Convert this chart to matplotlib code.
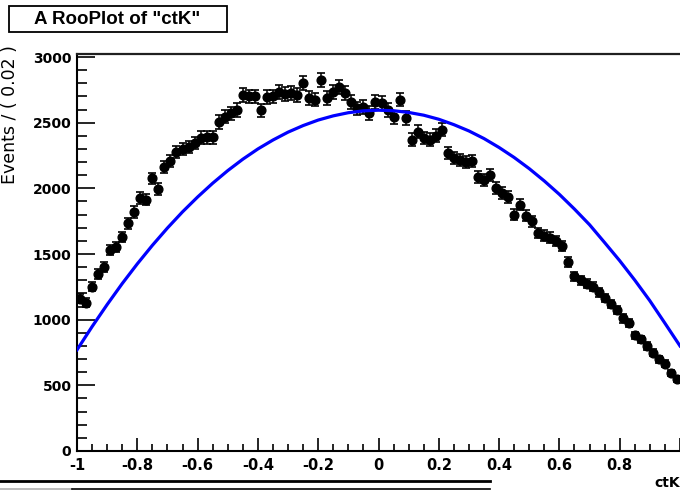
import numpy as np
import matplotlib
matplotlib.use("Agg")
import matplotlib.pyplot as plt
from matplotlib.patches import Rectangle
from matplotlib.lines import Line2D
from matplotlib.ticker import MultipleLocator, FixedLocator, FixedFormatter

# ---- data (100 bins of width 0.02 on [-1, 1]) ----
bin_centers = np.round(np.arange(-0.99, 1.0, 0.02), 2)
counts = [
    1160, 1130, 1250, 1350, 1400, 1530, 1555, 1630, 1735, 1820,
    1925, 1915, 2075, 1995, 2160, 2210, 2275, 2300, 2315, 2345,
    2385, 2390, 2390, 2505, 2545, 2570, 2597, 2710, 2700, 2700,
    2595, 2695, 2700, 2735, 2720, 2727, 2711, 2803, 2690, 2675,
    2826, 2690, 2734, 2772, 2727, 2658, 2610, 2620, 2574, 2658,
    2650, 2597, 2540, 2675, 2536, 2369, 2430, 2384, 2369, 2400,
    2445, 2270, 2231, 2216, 2201, 2210, 2090, 2065, 2100, 2000,
    1965, 1935, 1800, 1875, 1790, 1750, 1660, 1640, 1625, 1600,
    1560, 1440, 1330, 1300, 1275, 1250, 1210, 1165, 1120, 1075,
    1010, 975, 880, 850, 800, 750, 700, 665, 595, 545,
]
count_errors = np.sqrt(np.array(counts, dtype=float))

# model curve
curve_x = np.round(np.arange(-1.0, 1.0001, 0.05), 2)
curve_y = [
    770, 947, 1115, 1275, 1425, 1566, 1698, 1821, 1934, 2039,
    2135, 2222, 2300, 2368, 2428, 2478, 2520, 2552, 2576, 2590,
    2595, 2591, 2578, 2557, 2526, 2485, 2437, 2379, 2311, 2235,
    2150, 2056, 1954, 1842, 1723, 1587, 1449, 1301, 1144, 973, 800,
]

x_tick_values = [-1, -0.8, -0.6, -0.4, -0.2, 0, 0.2, 0.4, 0.6, 0.8, 1.0]
x_tick_labels = ["-1", "-0.8", "-0.6", "-0.4", "-0.2", "0", "0.2", "0.4", "0.6", "0.8", ""]
y_tick_values = [0, 500, 1000, 1500, 2000, 2500, 3000]
y_tick_labels = ["0", "500", "1000", "1500", "2000", "2500", "3000"]

title_text = 'A RooPlot of "ctK"'
x_title = "ctK"
y_title = "Events / ( 0.02 )"

# ---- figure ----
W, H = 680, 491
fig = plt.figure(figsize=(W / 100, H / 100), dpi=100)
fig.patch.set_facecolor("white")

ax_left, ax_right, ax_top, ax_bottom = 77, 680, 54, 451
ax = fig.add_axes([ax_left / W, (H - ax_bottom) / H,
                   (ax_right - ax_left) / W, (ax_bottom - ax_top) / H])

ax.errorbar(bin_centers, counts, yerr=count_errors, fmt="o", color="black",
            ms=6.3, elinewidth=1.1, capsize=2.8, capthick=1.2, zorder=2)
ax.plot(curve_x, curve_y, color="#0000ff", lw=2.3, zorder=3)

ax.set_xlim(-1, 1)
ax.set_ylim(0, 3023)

ax.xaxis.set_major_locator(FixedLocator(x_tick_values))
ax.xaxis.set_major_formatter(FixedFormatter(x_tick_labels))
ax.xaxis.set_minor_locator(MultipleLocator(0.05))
ax.yaxis.set_major_locator(FixedLocator(y_tick_values))
ax.yaxis.set_major_formatter(FixedFormatter(y_tick_labels))
ax.yaxis.set_minor_locator(MultipleLocator(100))

ax.tick_params(axis="y", which="major", direction="in", length=13, width=1.2,
               left=True, right=False, pad=4, labelsize=10)
ax.tick_params(axis="y", which="minor", direction="in", length=7, width=1.2,
               left=True, right=False)
ax.tick_params(axis="x", which="major", direction="in", length=9.5, width=1.2,
               bottom=True, top=False, pad=5, labelsize=10.5)
ax.tick_params(axis="x", which="minor", direction="in", length=5, width=1.2,
               bottom=True, top=False)
for lab in ax.get_xticklabels() + ax.get_yticklabels():
    lab.set_fontweight("bold")
    lab.set_family("DejaVu Sans")

ax.spines["right"].set_visible(False)
for s in ("left", "bottom"):
    ax.spines[s].set_linewidth(1.5)
ax.spines["top"].set_linewidth(1.6)
ax.spines["top"].set_color("#202020")

# axis titles
fig.text(680 / W, 1 - 483 / H, x_title, ha="right", va="center",
         fontsize=10, fontweight="bold", family="DejaVu Sans")
fig.text(10 / W, 1 - 45 / H, y_title, ha="center", va="top", rotation=90,
         fontsize=12.5, family="DejaVu Sans")

# title box
fig.patches.append(Rectangle((9 / W, 1 - 32 / H), (227 - 9) / W, (32 - 6) / H,
                             transform=fig.transFigure, facecolor="white",
                             edgecolor="black", linewidth=1.3))
fig.text(117 / W, 1 - 19.5 / H, title_text, ha="center", va="center",
         fontsize=13.5, fontweight="bold", family=["Liberation Sans", "DejaVu Sans"])

# canvas frame lines at the bottom
fig.lines.append(Line2D([0, 490 / W], [1 - 481 / H, 1 - 481 / H],
                        transform=fig.transFigure, color="black", lw=2.0))
fig.lines.append(Line2D([0, 72 / W], [1 - 489 / H, 1 - 489 / H],
                        transform=fig.transFigure, color="#b0b0b0", lw=1.2))
fig.lines.append(Line2D([72 / W, 490 / W], [1 - 489 / H, 1 - 489 / H],
                        transform=fig.transFigure, color="black", lw=1.2))

fig.savefig("out.png", dpi=100)
